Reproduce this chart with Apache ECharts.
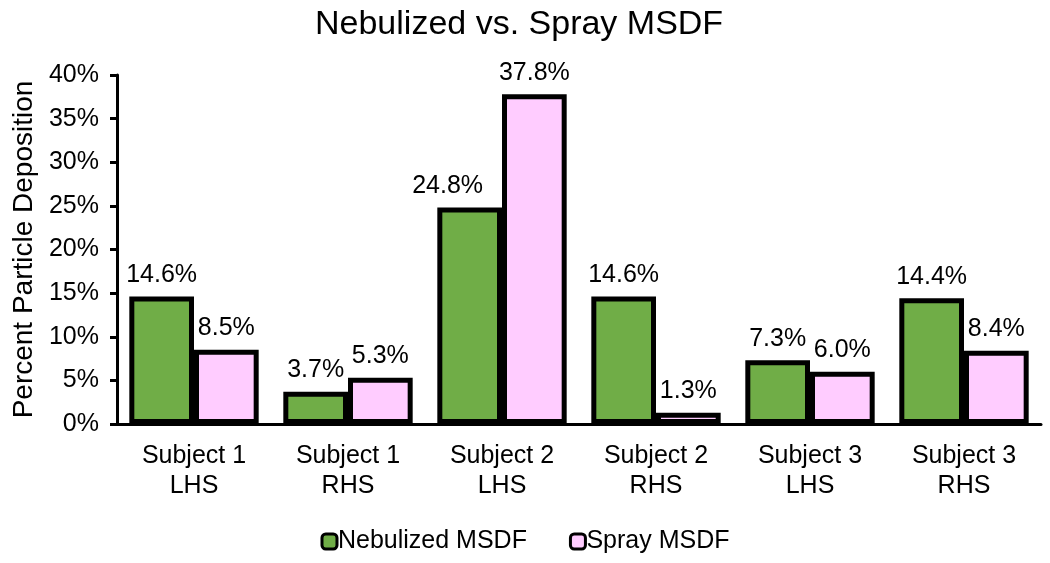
<!DOCTYPE html>
<html><head><meta charset="utf-8">
<script src="https://cdn.jsdelivr.net/npm/echarts@6/dist/echarts.min.js"></script>
<style>html,body{margin:0;padding:0;background:#fff}#c{width:1050px;height:563px}</style>
</head><body><div id="c"></div>
<script>
const categories = ['Subject 1\nLHS','Subject 1\nRHS','Subject 2\nLHS','Subject 2\nRHS','Subject 3\nLHS','Subject 3\nRHS'];
const nebulized = [14.6, 3.7, 24.8, 14.6, 7.3, 14.4];
const spray = [8.5, 5.3, 37.8, 1.3, 6.0, 8.4];
const seriesNames = ['Nebulized MSDF','Spray MSDF'];
const F = 'Liberation Sans, Arial, sans-serif';
const chart = echarts.init(document.getElementById('c'));
const lbl = {show:true, position:'top', distance:9, color:'#000', fontFamily:F, fontSize:25,
  formatter: p => p.value.toFixed(1) + '%'};
// label of the tall Subject 2 LHS nebulized bar sits shifted left in the reference
const nebData = nebulized.map((v,i)=> i===2 ? {value:v, label:{offset:[-22,0]}} : v);
chart.setOption({
  animation:false,
  title:{text:'Nebulized vs. Spray MSDF', left:310, top:3,
    textStyle:{fontFamily:F, fontSize:34, fontWeight:'normal', color:'#000'}},
  grid:{left:117, right:9, top:75, bottom:139},
  legend:{bottom:4, left:'center', itemWidth:15, itemHeight:15, itemGap:42,
    textStyle:{fontFamily:F, fontSize:25, color:'#000', padding:[0,0,0,-4]},
    data:seriesNames.map(n=>({name:n, itemStyle:{borderColor:'#000', borderWidth:3}}))},
  xAxis:{type:'category', data:categories,
    axisLine:{lineStyle:{color:'#000', width:3}},
    axisTick:{show:false},
    axisLabel:{color:'#000', fontFamily:F, fontSize:25, lineHeight:30, margin:17}},
  yAxis:{type:'value', min:0, max:40, interval:5,
    name:'Percent Particle Deposition', nameLocation:'middle', nameGap:77,
    nameTextStyle:{fontFamily:F, fontSize:28, color:'#000'},
    axisLine:{show:true, lineStyle:{color:'#000', width:3}},
    axisTick:{show:true, length:7, lineStyle:{color:'#000', width:3}},
    splitLine:{show:false},
    axisLabel:{color:'#000', fontFamily:F, fontSize:25, margin:18, formatter:v=>v+'%'}},
  series:[
    {name:seriesNames[0], type:'bar', data:nebData, barGap:'0%', barCategoryGap:'16%',
     itemStyle:{color:'#70AD47', borderColor:'#000', borderWidth:5}, label:lbl},
    {name:seriesNames[1], type:'bar', data:spray,
     itemStyle:{color:'#FFCCFF', borderColor:'#000', borderWidth:5}, label:lbl}
  ]
});
</script></body></html>
